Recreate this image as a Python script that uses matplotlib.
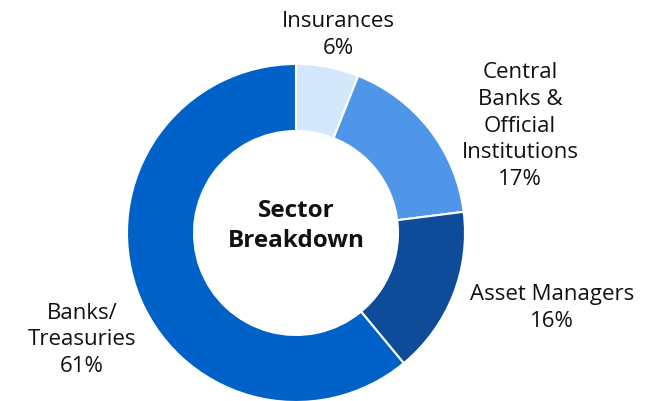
import matplotlib.pyplot as plt

plt.rcParams["font.family"] = ["Open Sans", "DejaVu Sans"]

# sector shares, clockwise from 12 o'clock
sectors = ["Insurances", "Central Banks & Official Institutions", "Asset Managers", "Banks/Treasuries"]
shares = [6, 17, 16, 61]
colors = ["#d3e8fb", "#4f95e8", "#0e4b99", "#0061c9"]

# label text and where it sits (pixel coords, y measured from top)
label_text = ["Insurances\n6%",
              "Central\nBanks &\nOfficial\nInstitutions\n17%",
              "Asset Managers\n16%",
              "Banks/\nTreasuries\n61%"]
label_pos = [(338, 35), (520, 126), (552, 308), (82, 340)]

W, H = 658, 402
fig = plt.figure(figsize=(W / 100, H / 100), dpi=100)
ax = fig.add_axes([0, 0, 1, 1])

cx, cy, r_out, r_in = 296, H - 234, 169, 102
ax.pie(shares, colors=colors, startangle=90, counterclock=False,
       center=(cx, cy), radius=r_out, frame=True,
       wedgeprops=dict(width=r_out - r_in, edgecolor="white", linewidth=1.5))
ax.set_xlim(0, W)
ax.set_ylim(0, H)
ax.set_aspect("equal")
ax.axis("off")

for txt, (x, y) in zip(label_text, label_pos):
    ax.text(x, H - y, txt, ha="center", va="center", fontsize=16,
            color="#111111", linespacing=1.36)

ax.text(cx, H - 226, "Sector\nBreakdown", ha="center", va="center",
        fontsize=17.5, fontweight="bold", color="#111111", linespacing=1.3)

fig.savefig("out.png", dpi=100)
